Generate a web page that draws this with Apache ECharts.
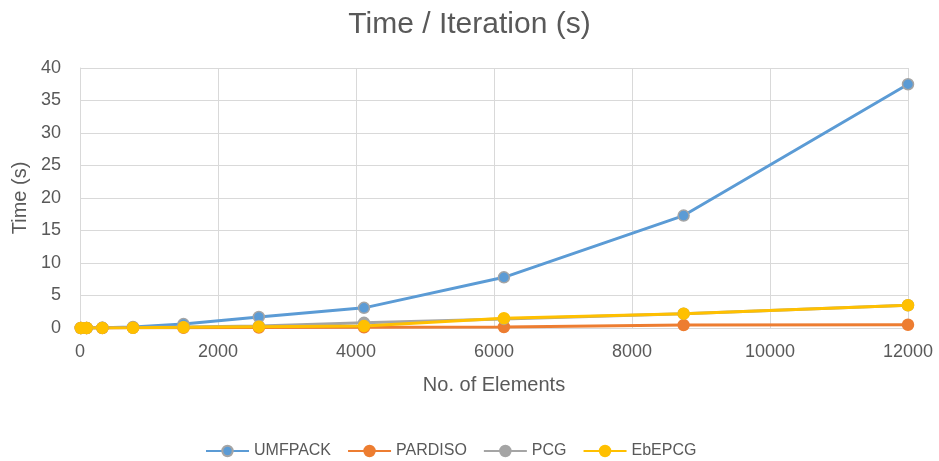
<!DOCTYPE html>
<html>
<head>
<meta charset="utf-8">
<script src="https://cdn.jsdelivr.net/npm/echarts@6/dist/echarts.min.js"></script>
<style>
  html, body { margin: 0; padding: 0; background: #fff; }
  #chart { width: 939px; height: 461px; }
</style>
</head>
<body>
<div id="chart"></div>
<script>
// Number of elements in each mesh
const elements = [12, 96, 324, 768, 1500, 2592, 4116, 6144, 8748, 12000];

// Time per iteration (s) for each solver
const umfpack = [0.0, 0.0, 0.02, 0.15, 0.6, 1.7, 3.1, 7.8, 17.3, 37.5];
const pardiso = [0.0, 0.0, 0.0, 0.02, 0.04, 0.07, 0.1, 0.15, 0.45, 0.5];
const pcg     = [0.0, 0.0, 0.02, 0.06, 0.15, 0.3, 0.8, 1.4, 2.2, 3.5];
const ebepcg  = [0.0, 0.0, 0.01, 0.04, 0.1, 0.2, 0.3, 1.5, 2.2, 3.5];

const seriesNames = ['UMFPACK', 'PARDISO', 'PCG', 'EbEPCG'];
const seriesValues = [umfpack, pardiso, pcg, ebepcg];
const colors = ['#5B9BD5', '#ED7D31', '#A5A5A5', '#FFC000'];
const markerBorders = ['#A5A5A5', '#ED7D31', '#A5A5A5', '#FFC000'];

const font = 'Liberation Sans, Arial, sans-serif';
const textColor = '#595959';

const chart = echarts.init(document.getElementById('chart'));
chart.setOption({
  animation: false,
  title: {
    text: 'Time / Iteration (s)',
    left: 'center',
    top: 5,
    textStyle: { fontFamily: font, fontSize: 30, fontWeight: 'normal', color: textColor }
  },
  legend: {
    top: 438,
    left: 200,
    itemWidth: 43,
    itemHeight: 13,
    itemGap: 16,
    textStyle: { fontFamily: font, fontSize: 16, color: textColor },
    data: seriesNames
  },
  grid: { left: 80, right: 31, top: 68, bottom: 133 },
  xAxis: {
    type: 'value',
    min: 0, max: 12000, interval: 2000,
    name: 'No. of Elements',
    nameLocation: 'middle',
    nameGap: 47,
    nameTextStyle: { fontFamily: font, fontSize: 20, color: textColor },
    axisLine: { show: true, lineStyle: { color: '#D9D9D9', width: 1 } },
    axisTick: { show: false },
    axisLabel: { fontFamily: font, fontSize: 18, color: textColor, margin: 15,
      formatter: v => String(v) },
    splitLine: { show: true, lineStyle: { color: '#D9D9D9', width: 1 } }
  },
  yAxis: {
    type: 'value',
    min: 0, max: 40, interval: 5,
    name: 'Time (s)',
    nameLocation: 'middle',
    nameGap: 50,
    nameRotate: 90,
    nameTextStyle: { fontFamily: font, fontSize: 20, color: textColor },
    axisLine: { show: true, lineStyle: { color: '#D9D9D9', width: 1 } },
    axisTick: { show: false },
    axisLabel: { fontFamily: font, fontSize: 18, color: textColor, margin: 19 },
    splitLine: { show: true, lineStyle: { color: '#D9D9D9', width: 1 } }
  },
  series: seriesNames.map((name, i) => ({
    name: name,
    type: 'line',
    data: elements.map((x, j) => [x, seriesValues[i][j]]),
    symbol: 'circle',
    symbolSize: 11,
    showAllSymbol: true,
    lineStyle: { color: colors[i], width: 3 },
    itemStyle: { color: colors[i], borderColor: markerBorders[i], borderWidth: 1.5 },
    emphasis: { disabled: true }
  }))
});
</script>
</body>
</html>
